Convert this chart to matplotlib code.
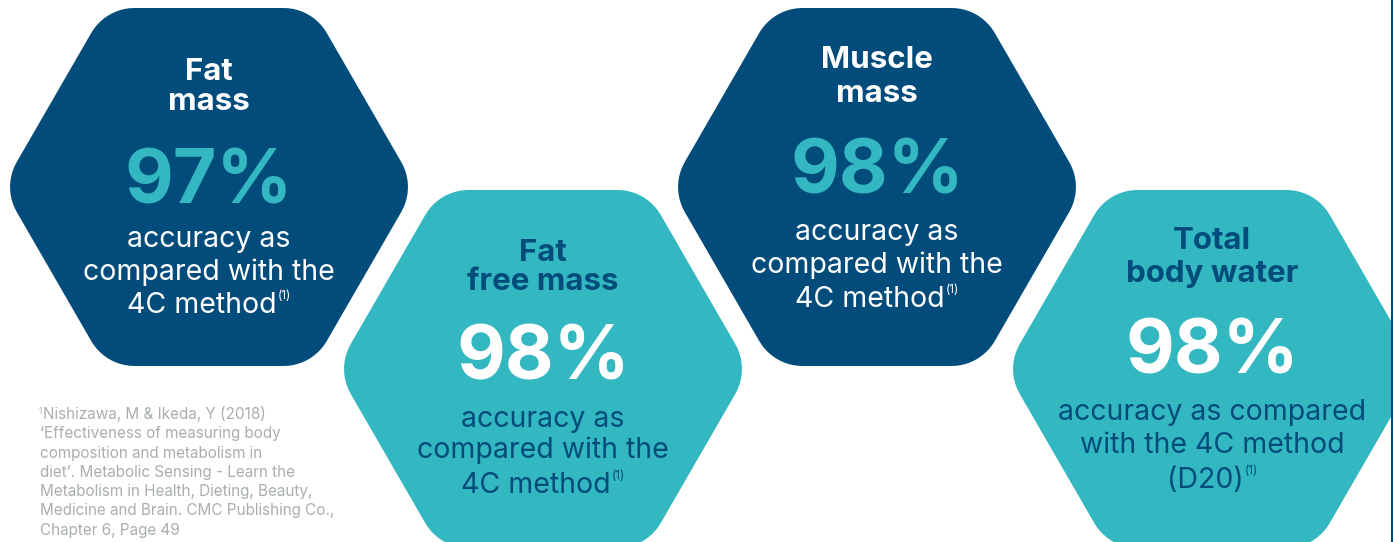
import numpy as np
import matplotlib
matplotlib.use('Agg')
import matplotlib.pyplot as plt
from matplotlib.patches import Polygon

# content
titles = [['Fat', 'mass'], ['Fat', 'free mass'], ['Muscle', 'mass'], ['Total', 'body water']]
values = ['97%', '98%', '98%', '98%']
descs = [['accuracy as', 'compared with the', '4C method'],
         ['accuracy as', 'compared with the', '4C method'],
         ['accuracy as', 'compared with the', '4C method'],
         ['accuracy as compared', 'with the 4C method', '(D20)']]
ref_mark = '(1)'
footnote = ['Nishizawa, M & Ikeda, Y (2018)',
            '‘Effectiveness of measuring body',
            'composition and metabolism in',
            'diet’. Metabolic Sensing - Learn the',
            'Metabolism in Health, Dieting, Beauty,',
            'Medicine and Brain. CMC Publishing Co.,',
            'Chapter 6, Page 49']

# layout (pixels)
hex_x = [209, 543, 877, 1212]
hex_y = [187, 369, 187, 369]
title_base = [[80, 110], [261, 290], [68, 102], [249, 282]]
value_base = [203, 380, 193, 373]
desc_base = [[247, 280, 313], [427, 458, 493], [240, 273, 307], [420, 453, 488]]

NAVY = '#024c7c'
TEAL = '#33b7c0'
GREY = '#a9aeb1'
fills = [NAVY, TEAL, NAVY, TEAL]
title_col = ['white', NAVY, 'white', NAVY]
value_col = [TEAL, 'white', TEAL, 'white']
desc_col = ['white', NAVY, 'white', NAVY]

FONT = ['Inter', 'DejaVu Sans']


def rounded_hex(cx, cy, apothem=179, r=50, n=12):
    # offset of a smaller hexagon by a circle of radius r
    R_in = (apothem - r) / np.cos(np.pi / 6)
    pts = []
    for k in range(6):
        th = np.deg2rad(60 * k)
        vx, vy = cx + R_in * np.cos(th), cy + R_in * np.sin(th)
        for a in np.linspace(th - np.pi / 6, th + np.pi / 6, n):
            pts.append((vx + r * np.cos(a), vy + r * np.sin(a)))
    return np.array(pts)


fig = plt.figure(figsize=(13.93, 5.42), dpi=100)
ax = fig.add_axes([0, 0, 1, 1])
ax.set_xlim(0, 1393)
ax.set_ylim(542, 0)
ax.axis('off')

for i in range(4):
    ax.add_patch(Polygon(rounded_hex(hex_x[i], hex_y[i]), closed=True,
                         facecolor=fills[i], edgecolor='none'))
    for t, yb in zip(titles[i], title_base[i]):
        ax.text(hex_x[i], yb, t, ha='center', va='baseline', fontsize=22.5,
                fontweight='bold', color=title_col[i], family=FONT)
    ax.text(hex_x[i], value_base[i], values[i], ha='center', va='baseline',
            fontsize=54, fontweight='bold', color=value_col[i], family=FONT)
    for k, (t, yb) in enumerate(zip(descs[i], desc_base[i])):
        last = k == len(descs[i]) - 1
        txt = ax.text(hex_x[i] - (7 if last else 0), yb, t, ha='center',
                      va='baseline', fontsize=20.5, color=desc_col[i], family=FONT)
        if last:
            ax.annotate(ref_mark, xy=(1, 0.62), xycoords=txt, xytext=(1, 0),
                        textcoords='offset points', ha='left', va='bottom',
                        fontsize=8.5, color=desc_col[i], family=FONT)

for j, line in enumerate(footnote):
    txt = ax.text(43 if j == 0 else 40, 419 + j * 19.3, line, ha='left',
                  va='baseline', fontsize=11, color=GREY, family=FONT)
    if j == 0:
        ax.annotate('1', xy=(0, 0.95), xycoords=txt, xytext=(-0.5, 0),
                    textcoords='offset points', ha='right', va='top',
                    fontsize=6, color=GREY, family=FONT)

# thin navy rule on the right edge
ax.axvline(1391.5, color=NAVY, lw=2.2)

fig.savefig('out.png', dpi=100)
